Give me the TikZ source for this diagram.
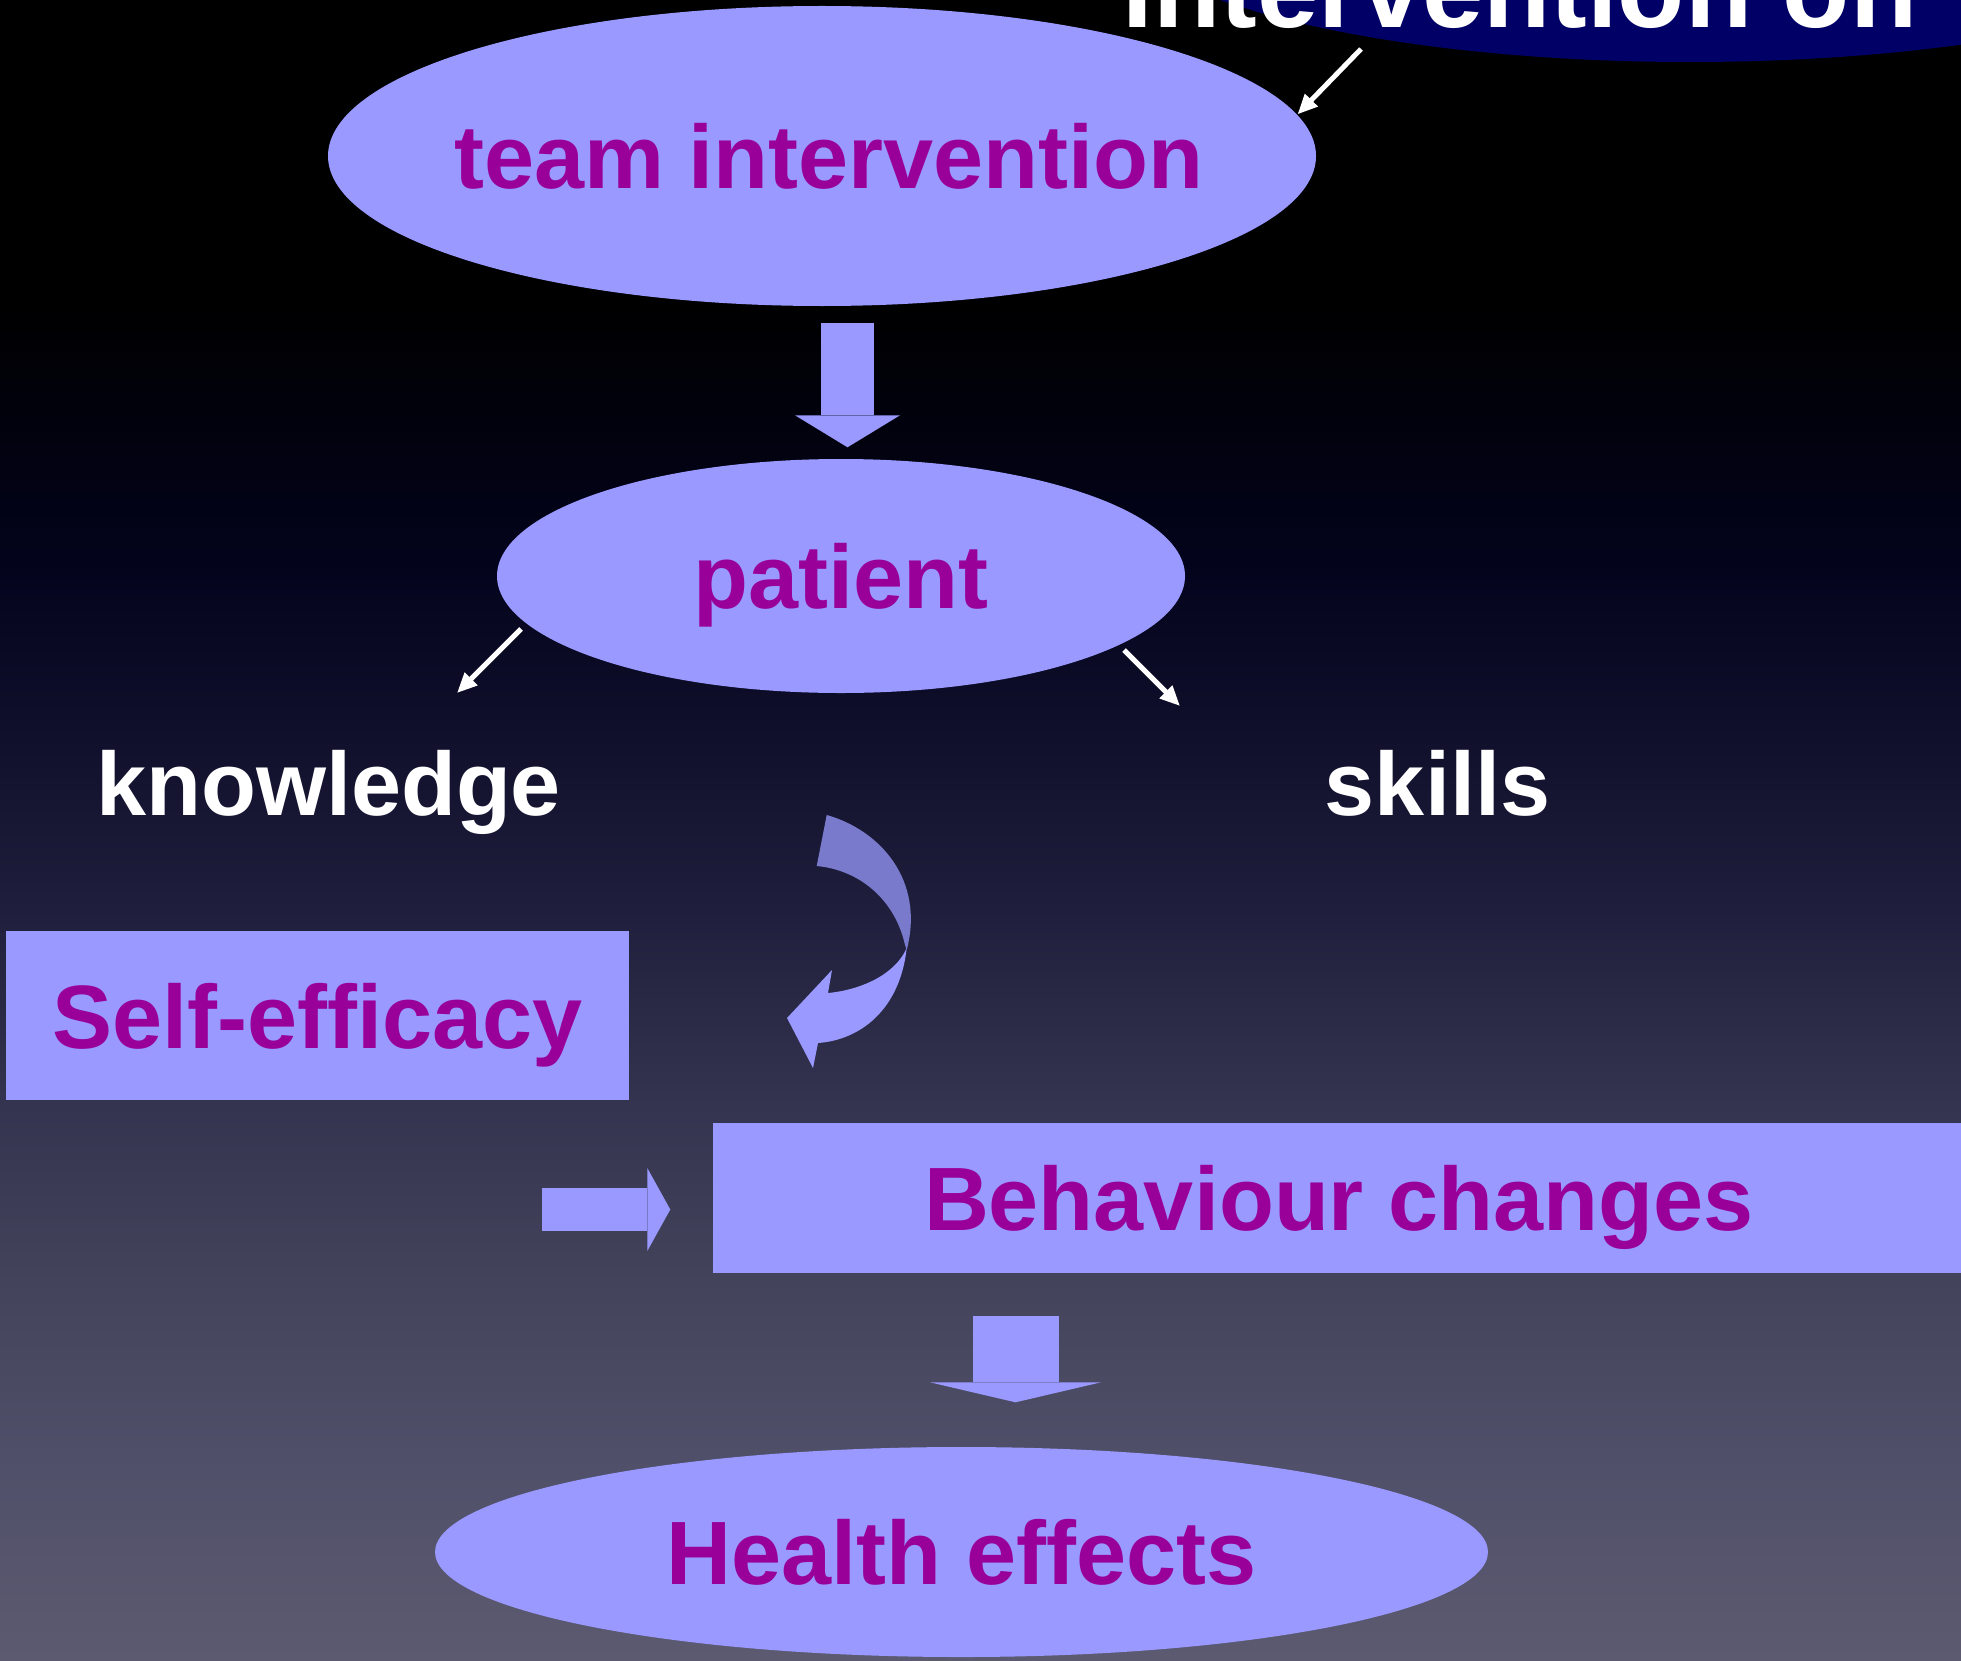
\documentclass[tikz,border=0pt]{standalone}
\usepackage{fontspec}
\setmainfont{Liberation Sans}
\usetikzlibrary{shapes.geometric, arrows.meta}

\definecolor{lilac}{HTML}{9999FF}
\definecolor{lilacdark}{HTML}{7A7ACC}
\definecolor{plum}{HTML}{990099}
\definecolor{navy}{HTML}{000066}
\definecolor{bgA}{HTML}{5C5A70}
\definecolor{bgB}{HTML}{50506A}
\definecolor{bgC}{HTML}{44445C}
\definecolor{bgD}{HTML}{343450}
\definecolor{bgE}{HTML}{1E1E3C}
\definecolor{bgF}{HTML}{0E0E2A}
\definecolor{bgG}{HTML}{03031C}

% slide background, dark at the top
\pgfdeclareverticalshading{slidebg}{100bp}{color(0bp)=(bgA); color(25bp)=(bgA);
  color(30.7bp)=(bgB); color(36bp)=(bgC); color(41.7bp)=(bgD); color(47.9bp)=(bgE);
  color(53.5bp)=(bgF); color(58.1bp)=(bgG); color(66bp)=(black); color(100bp)=(black)}

\begin{document}
\begin{tikzpicture}[
    big/.style={font=\fontsize{25.6}{30}\selectfont\bfseries, text depth=0pt},
    inside/.style={big, text=plum},
    bubble/.style={ellipse, fill=lilac, inner sep=0pt},
    panel/.style={rectangle, fill=lilac, inner sep=0pt, inside},
    fat/.style={lilac, line width=#1},
    pointer/.style={white, line width=0.05cm, -{Triangle[length=0.2cm, width=0.17cm]}}
]
    \useasboundingbox (0,0) rectangle (19.61,-16.60);
    \clip (0,0) rectangle (19.61,-16.60);
    \shade[shading=slidebg] (0,0) rectangle (19.61,-16.60);

    \node[ellipse, fill=navy, minimum width=11.6cm, minimum height=3cm] (topic) at (16.9,0.88) {};
    \node[anchor=base, text=white, font=\fontsize{31.3}{36}\selectfont\bfseries] (topictxt) at (15.2,-0.28) {Intervention on};

    \node[bubble, minimum width=9.88cm, minimum height=3cm, label={[inside, xshift=0.07cm]center:team intervention}] (team) at (8.22,-1.56) {};
    \node[bubble, minimum width=6.88cm, minimum height=2.34cm, label={[inside]center:patient}] (patient) at (8.41,-5.76) {};

    \node[big, text=white, anchor=base] (know) at (3.285,-8.15) {knowledge};
    \node[big, text=white, anchor=base] (skills) at (14.375,-8.15) {skills};

    \node[panel, minimum width=6.23cm, minimum height=1.69cm] (self) at (3.175,-10.155) {Self-efficacy};
    \node[panel, minimum width=12.52cm, minimum height=1.5cm] (beh) at (13.39,-11.98) {Behaviour changes};

    \node[bubble, minimum width=10.53cm, minimum height=2.1cm, label={[inside]center:Health effects}] (health) at (9.615,-15.52) {};

    % thin white pointers
    \draw[pointer] ([shift={(-3.29,-1.37)}]topic.center) -- (team.5);
    \draw[pointer] ([shift={(-3.20,-0.53)}]patient.center) -- ++(-0.64,-0.64);
    \draw[pointer] ([shift={(2.83,-0.74)}]patient.center) -- ++(0.56,-0.56);

    % block arrows
    \draw[fat=0.53cm, -{Triangle[length=0.32cm, width=1.05cm, line width=0pt]}]
        ([xshift=0.255cm, yshift=-0.16cm]team.south) -- ([xshift=0.065cm, yshift=0.11cm]patient.north);
    \draw[fat=0.43cm, -{Triangle[length=0.23cm, width=0.83cm, line width=0pt]}]
        ([xshift=-1.70cm, yshift=-0.115cm]beh.west) -- ([xshift=-0.42cm, yshift=-0.115cm]beh.west);
    \draw[fat=0.86cm, -{Triangle[length=0.20cm, width=1.71cm, line width=0pt]}]
        ([xshift=0.54cm, yshift=1.30cm]health.north) -- ([xshift=0.54cm, yshift=0.44cm]health.north);

    % twisted curved arrow
    \fill[lilacdark] (8.267,-8.15) .. controls (8.80,-8.30) and (9.25,-8.80) .. (9.067,-9.50)
        -- (9.05,-9.45) .. controls (8.95,-9.00) and (8.60,-8.70) .. (8.167,-8.66) -- cycle;
    \fill[lilac] (9.067,-9.48) .. controls (9.00,-10.10) and (8.60,-10.40) .. (8.18,-10.43)
        -- (8.13,-10.68) -- (7.87,-10.18) -- (8.32,-9.70) -- (8.28,-9.93)
        .. controls (8.60,-9.90) and (8.95,-9.75) .. (9.067,-9.48) -- cycle;
\end{tikzpicture}
\end{document}
